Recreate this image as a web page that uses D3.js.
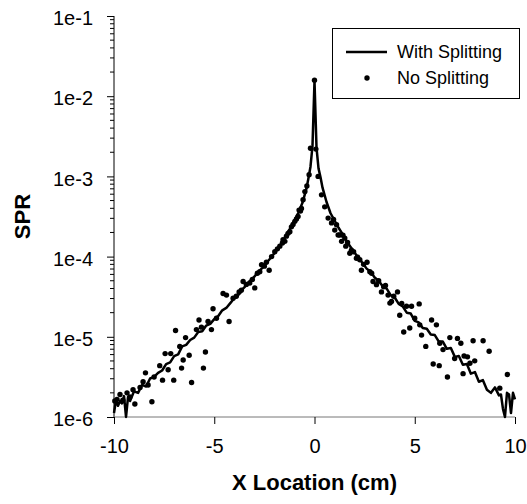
<!DOCTYPE html>
<html>
<head>
<meta charset="utf-8">
<script src="https://cdn.jsdelivr.net/npm/d3@7"></script>
<style>
  body { margin: 0; background: #fff; }
  svg { display: block; font-family: Arial, "Liberation Sans", sans-serif; }
</style>
</head>
<body>
<svg id="chart" width="527" height="504"></svg>
<script>
// x in cm, SPR values
var withX = [-10, -9.9, -9.8, -9.7, -9.6, -9.5, -9.4, -9.3, -9.2, -9.0, -8.8, -8.6, -8.4, -8.2, -8.0,
    -7.8, -7.6, -7.4, -7.2, -7.0, -6.8, -6.6, -6.4, -6.2, -6.0, -5.8, -5.6, -5.4, -5.2, -5.0,
    -4.8, -4.6, -4.4, -4.2, -4.0, -3.8, -3.6, -3.4, -3.2, -3.0, -2.8, -2.6, -2.4, -2.2, -2.0,
    -1.8, -1.6, -1.4, -1.2, -1.0, -0.8, -0.6, -0.4, -0.3, -0.2, -0.1, 0,
    0.1, 0.2, 0.3, 0.4, 0.6, 0.8, 1.0, 1.2, 1.4, 1.6, 1.8, 2.0, 2.2, 2.4, 2.6, 2.8, 3.0,
    3.2, 3.4, 3.6, 3.8, 4.0, 4.2, 4.4, 4.6, 4.8, 5.0, 5.2, 5.4, 5.6, 5.8, 6.0, 6.2, 6.4,
    6.6, 6.8, 7.0, 7.2, 7.4, 7.6, 7.8, 8.0, 8.2, 8.4, 8.6, 8.8, 9.0, 9.2, 9.3, 9.4, 9.5,
    9.6, 9.7, 9.8, 9.9, 10];
var withY = [1.12e-6, 1.62e-6, 1.38e-6, 1.58e-6, 1.48e-6, 1.82e-6, 1.0e-6, 1.78e-6, 1.58e-6, 2.09e-6, 2.0e-6, 2.51e-6, 2.4e-6, 3.02e-6, 3.16e-6,
    3.55e-6, 3.8e-6, 4.57e-6, 4.79e-6, 5.75e-6, 6.03e-6, 7.59e-6, 7.94e-6, 9.12e-6, 9.77e-6, 1.15e-5, 1.17e-5, 1.38e-5, 1.45e-5, 1.66e-5,
    1.82e-5, 2.14e-5, 2.29e-5, 2.63e-5, 3.02e-5, 3.31e-5, 3.89e-5, 4.37e-5, 5.01e-5, 5.62e-5, 6.46e-5, 7.24e-5, 8.32e-5, 9.55e-5, 1.10e-4,
    1.29e-4, 1.51e-4, 1.86e-4, 2.29e-4, 2.82e-4, 3.55e-4, 4.68e-4, 7.08e-4, 9.55e-4, 1.32e-3, 2.40e-3, 1.55e-2,
    2.29e-3, 1.26e-3, 9.77e-4, 7.24e-4, 4.79e-4, 3.47e-4, 2.82e-4, 2.29e-4, 1.91e-4, 1.55e-4, 1.32e-4, 1.12e-4, 9.55e-5, 8.32e-5, 7.08e-5, 6.46e-5, 5.50e-5,
    5.01e-5, 4.27e-5, 3.98e-5, 3.31e-5, 3.09e-5, 2.57e-5, 2.40e-5, 2.0e-5, 1.95e-5, 1.58e-5, 1.51e-5, 1.29e-5, 1.26e-5, 1.07e-5, 1.05e-5, 8.71e-6, 8.71e-6,
    7.08e-6, 7.24e-6, 5.62e-6, 5.75e-6, 4.47e-6, 4.57e-6, 3.47e-6, 3.63e-6, 2.75e-6, 2.88e-6, 2.19e-6, 2.0e-6, 2.34e-6, 1.86e-6, 1.91e-6, 1.26e-6, 1.0e-6,
    2.0e-6, 1.91e-6, 1.12e-6, 2.0e-6, 1.66e-6];

var noX = [-9.96, -9.85, -9.7, -9.56, -9.35, -9.21, -9.05, -8.96, -8.7, -8.55, -8.43, -8.3, -8.11, -8.0, -7.72, -7.58,
    -7.45, -7.3, -7.17, -7.02, -6.93, -6.72, -6.63, -6.55, -6.43, -6.25, -6.13, -5.89, -5.76, -5.64,
    -5.54, -5.44, -5.31, -5.14, -5.06, -4.89, -4.56, -4.39, -4.26, -4.06, -3.9, -3.76, -3.65, -3.56, -3.4, -3.23, -3.1, -2.98,
    -2.85, -2.73, -2.64, -2.5, -2.4, -2.26, -2.14, -1.98, -1.85, -1.73, -1.6, -1.57, -1.48, -1.4, -1.32, -1.23, -1.15, -1.07, -0.98, -0.9, -0.82, -0.77,
    -0.7, -0.65, -0.57, -0.48, -0.38, -0.27, -0.2, 0, 0.07, 0.18, 0.35, 0.51, 0.68, 0.85, 0.95, 1.01, 1.1, 1.18, 1.26, 1.35, 1.42,
    1.51, 1.56, 1.65, 1.76, 1.84, 1.95, 2.09, 2.15, 2.26, 2.34, 2.45, 2.62, 2.76, 2.85, 2.92, 3.09, 3.2, 3.34, 3.45, 3.54, 3.67, 3.76, 3.84, 3.95,
    4.14, 4.25, 4.35, 4.45, 4.59, 4.75, 4.84, 5.0, 5.22, 5.25, 5.34, 5.55, 5.84, 5.92, 6.08, 6.22, 6.25,
    6.41, 6.63, 6.75, 6.99, 7.13, 7.3, 7.41, 7.46, 7.63, 7.75, 7.91, 7.99, 8.41, 8.71, 9.24, 9.62];
var noY = [1.58e-6, 1.66e-6, 1.91e-6, 1.62e-6, 2.0e-6, 1.78e-6, 2.19e-6, 1.45e-6, 2.34e-6, 2.75e-6, 3.55e-6, 2.51e-6, 1.55e-6, 3.16e-6, 4.37e-6, 2.88e-6,
    6.17e-6, 3.89e-6, 6.17e-6, 2.88e-6, 1.20e-5, 7.59e-6, 4.07e-6, 5.13e-6, 9.77e-6, 5.89e-6, 2.69e-6, 1.23e-5, 1.62e-5, 1.32e-5,
    4.07e-6, 6.46e-6, 1.55e-5, 1.23e-5, 2.24e-5, 1.70e-5, 3.47e-5, 3.31e-5, 1.55e-5, 3.02e-5, 3.2e-5, 3.63e-5, 3.8e-5, 4.90e-5, 4.5e-5, 4.68e-5, 5.2e-5, 4.07e-5,
    6.2e-5, 6.46e-5, 7.94e-5, 7.6e-5, 8.5e-5, 6.76e-5, 1.0e-4, 1.15e-4, 1.25e-4, 1.35e-4, 1.48e-4, 1.62e-4, 1.55e-4, 1.80e-4, 1.95e-4, 2.04e-4, 2.35e-4, 2.51e-4, 2.75e-4, 2.95e-4, 3.16e-4, 3.80e-4,
    3.7e-4, 3.98e-4, 5.13e-4, 6.46e-4, 7.6e-4, 1.05e-3, 2.24e-3, 1.58e-2, 2.19e-3, 1.0e-3, 5.89e-4, 4.17e-4, 3.02e-4, 2.63e-4, 2.9e-4, 2.14e-4, 2.5e-4, 1.86e-4, 1.86e-4, 1.55e-4, 1.85e-4,
    1.70e-4, 1.35e-4, 1.5e-4, 1.10e-4, 1.20e-4, 1.15e-4, 9.55e-5, 9.8e-5, 9.12e-5, 6.76e-5, 8.0e-5, 8.51e-5, 6.46e-5, 6.2e-5, 4.90e-5, 4.47e-5, 5.0e-5, 3.63e-5, 4.2e-5, 4.37e-5, 3.31e-5, 2.63e-5, 2.75e-5, 3.2e-5,
    3.63e-5, 1.86e-5, 2.6e-5, 1.15e-5, 2.40e-5, 1.29e-5, 2.40e-5, 1.70e-5, 2.57e-5, 1.41e-5, 1.05e-5, 7.59e-6, 1.62e-5, 4.57e-6, 1.41e-5, 4.37e-6, 8.32e-6,
    6.92e-6, 3.16e-6, 9.77e-6, 5.37e-6, 9.55e-6, 8.32e-6, 3.47e-6, 5.75e-6, 5.62e-6, 4.68e-6, 8.91e-6, 5.01e-6, 8.91e-6, 6.61e-6, 2.29e-6, 3.39e-6];

var xTicks = [-10, -5, 0, 5, 10];
var xTickLabels = ["-10", "-5", "0", "5", "10"];
var yTicks = [1e-1, 1e-2, 1e-3, 1e-4, 1e-5, 1e-6];
var yTickLabels = ["1e-1", "1e-2", "1e-3", "1e-4", "1e-5", "1e-6"];
var legendLabels = ["With Splitting", "No Splitting"];

var svg = d3.select("#chart"),
    W = +svg.attr("width"),
    H = +svg.attr("height"),
    margin = {top: 16, right: 12, bottom: 87, left: 114},
    w = W - margin.left - margin.right,
    h = H - margin.top - margin.bottom;

var x = d3.scaleLinear().domain([-10, 10]).range([0, w]);
var y = d3.scaleLog().domain([1e-6, 1e-1]).range([h, 0]);

var g = svg.append("g").attr("transform", "translate(" + margin.left + "," + margin.top + ")");

// minor ticks on the log axis
var minor = [];
yTicks.forEach(function(t) {
    if (t >= 1e-1) return;
    for (var k = 2; k <= 9; k++) minor.push(t * k);
});
g.selectAll(".minor").data(minor).enter().append("line")
    .attr("x1", -4).attr("x2", 0)
    .attr("y1", function(d) { return y(d); })
    .attr("y2", function(d) { return y(d); })
    .attr("stroke", "#000").attr("stroke-width", 1);

// y axis
var yAxis = g.append("g")
    .call(d3.axisLeft(y).tickValues(yTicks).tickSize(7).tickPadding(14)
        .tickFormat(function(d, i) { return yTickLabels[i]; }));
yAxis.selectAll("text").attr("font-size", 20).attr("fill", "#000")
    .attr("font-family", "Arial, 'Liberation Sans', sans-serif").attr("dy", "0.43em");
yAxis.selectAll("line").attr("stroke", "#000");
yAxis.select(".domain").attr("d", "M0," + h + "V0").attr("stroke", "#000");

// x axis
var xAxis = g.append("g").attr("transform", "translate(0," + h + ")")
    .call(d3.axisBottom(x).tickValues(xTicks).tickSize(7).tickPadding(14)
        .tickFormat(function(d, i) { return xTickLabels[i]; }));
xAxis.selectAll("text").attr("font-size", 20).attr("fill", "#000")
    .attr("font-family", "Arial, 'Liberation Sans', sans-serif").attr("dy", "0.72em").attr("y", 22);
xAxis.selectAll("line").attr("stroke", "#000");
xAxis.select(".domain").attr("d", "M0,0H" + w).attr("stroke", "#777");

// with splitting line
var line = d3.line()
    .x(function(d, i) { return x(withX[i]); })
    .y(function(d) { return y(d); });
g.append("path").datum(withY)
    .attr("d", line)
    .attr("fill", "none")
    .attr("stroke", "#000")
    .attr("stroke-width", 2.5)
    .attr("stroke-linejoin", "round");

// no splitting dots
g.selectAll(".dot").data(noY).enter().append("circle")
    .attr("cx", function(d, i) { return x(noX[i]); })
    .attr("cy", function(d) { return y(d); })
    .attr("r", 2.7)
    .attr("fill", "#000");

// axis titles
svg.append("text")
    .attr("x", margin.left + w / 2).attr("y", 490)
    .attr("text-anchor", "middle")
    .attr("font-size", 22).attr("font-weight", "bold")
    .text("X Location (cm)");
svg.append("text")
    .attr("transform", "translate(30," + (margin.top + h / 2) + ") rotate(-90)")
    .attr("text-anchor", "middle")
    .attr("font-size", 22).attr("font-weight", "bold")
    .text("SPR");

// legend
var lg = svg.append("g");
lg.append("rect").attr("x", 332.5).attr("y", 28.5).attr("width", 187).attr("height", 70)
    .attr("fill", "#fff").attr("stroke", "#000").attr("stroke-width", 1);
lg.append("line").attr("x1", 346).attr("x2", 387).attr("y1", 52).attr("y2", 52)
    .attr("stroke", "#000").attr("stroke-width", 2.5);
lg.append("circle").attr("cx", 367).attr("cy", 78).attr("r", 2.7).attr("fill", "#000");
lg.selectAll(".lt").data(legendLabels).enter().append("text")
    .attr("x", 397)
    .attr("y", function(d, i) { return 58 + i * 26; })
    .attr("font-size", 18)
    .text(function(d) { return d; });
</script>
</body>
</html>
